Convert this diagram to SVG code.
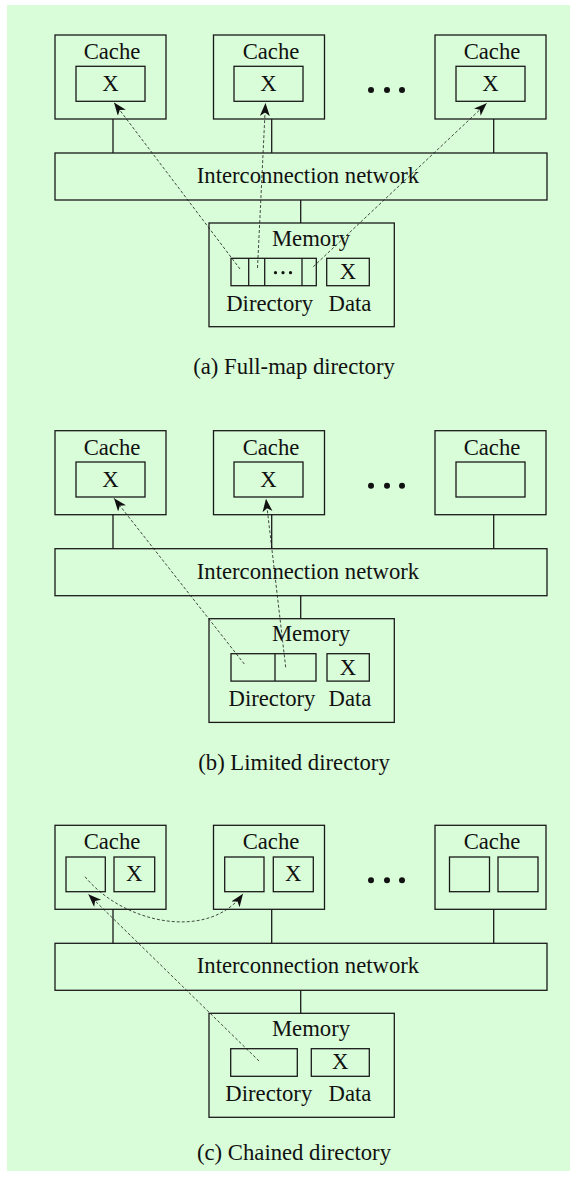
<svg xmlns="http://www.w3.org/2000/svg" width="576" height="1177" viewBox="0 0 576 1177">
<style>
.b{fill:none;stroke:#1a1a1a;stroke-width:1.3}
.t{font-family:"Liberation Serif","Times New Roman",serif;font-size:22.7px;fill:#111;text-anchor:middle}
.l{stroke:#1a1a1a;stroke-width:1.3;fill:none}
.d{stroke:#1a1a1a;stroke-width:0.8;stroke-dasharray:3 2;fill:none;marker-end:url(#ah)}
.dot{fill:#111}
</style>
<defs>
<marker id="ah" markerUnits="userSpaceOnUse" markerWidth="14" markerHeight="12" refX="13" refY="5" orient="auto">
<path d="M0,0 L13,5 L0,10 L3.5,5 Z" fill="#111"/>
</marker>
</defs>
<rect x="7" y="5" width="563" height="1166" fill="#d9fdd9"/>

<!-- Panel (a) -->
<g id="panel-a">
<g id="a-cache1"><rect class="b" x="55" y="35" width="111" height="84"/><text class="t" x="112" y="59">Cache</text><rect class="b" x="76" y="66.3" width="69" height="35"/><text class="t" x="110.5" y="91">X</text></g>
<g id="a-cache2"><rect class="b" x="213.5" y="35" width="111" height="84"/><text class="t" x="271" y="59">Cache</text><rect class="b" x="234" y="66.3" width="69" height="35"/><text class="t" x="268.5" y="91">X</text></g>
<g id="a-cache3"><rect class="b" x="435" y="35" width="111" height="84"/><text class="t" x="492" y="59">Cache</text><rect class="b" x="456" y="66.3" width="69" height="35"/><text class="t" x="490.5" y="91">X</text></g>
<g id="a-ellipsis"><circle class="dot" cx="371" cy="90" r="3"/><circle class="dot" cx="387" cy="90" r="3"/><circle class="dot" cx="402" cy="90" r="3"/></g>
<g id="a-network"><rect class="b" x="55" y="153" width="492" height="47"/><text class="t" x="308" y="183">Interconnection network</text></g>
<g id="a-memory"><rect class="b" x="209" y="223" width="185.3" height="103.7"/><text class="t" x="311" y="246">Memory</text>
<rect class="b" x="231" y="258.3" width="85.3" height="27.4"/><line class="l" x1="248.7" y1="258.3" x2="248.7" y2="285.7"/><line class="l" x1="264.7" y1="258.3" x2="264.7" y2="285.7"/><line class="l" x1="302" y1="258.3" x2="302" y2="285.7"/>
<circle class="dot" cx="275.5" cy="272.7" r="1.6"/><circle class="dot" cx="283" cy="272.7" r="1.6"/><circle class="dot" cx="290.5" cy="272.7" r="1.6"/>
<rect class="b" x="326.7" y="258.3" width="42.6" height="27.4"/><text class="t" x="348" y="279">X</text>
<text class="t" x="269.7" y="310.7">Directory</text><text class="t" x="350" y="310.7">Data</text></g>
<g id="a-connectors">
<line class="l" x1="113" y1="119" x2="113" y2="153"/><line class="l" x1="271.7" y1="119" x2="271.7" y2="153"/><line class="l" x1="493.7" y1="119" x2="493.7" y2="153"/><line class="l" x1="300.7" y1="200" x2="300.7" y2="223"/>
<line class="d" x1="240" y1="269" x2="114" y2="102.5"/>
<line class="d" x1="257.5" y1="268" x2="265.5" y2="103"/>
<line class="d" x1="313.3" y1="266.7" x2="486.7" y2="103.3"/>
</g>
<text id="a-caption" class="t" x="294" y="374.3">(a) Full-map directory</text>
</g>

<!-- Panel (b) -->
<g id="panel-b" transform="translate(0,395.7)">
<g id="b-cache1"><rect class="b" x="55" y="35" width="111" height="84"/><text class="t" x="112" y="59">Cache</text><rect class="b" x="76" y="66.3" width="69" height="35"/><text class="t" x="110.5" y="91">X</text></g>
<g id="b-cache2"><rect class="b" x="213.5" y="35" width="111" height="84"/><text class="t" x="271" y="59">Cache</text><rect class="b" x="234" y="66.3" width="69" height="35"/><text class="t" x="268.5" y="91">X</text></g>
<g id="b-cache3"><rect class="b" x="435" y="35" width="111" height="84"/><text class="t" x="492" y="59">Cache</text><rect class="b" x="456" y="66.3" width="69" height="35"/></g>
<g id="b-ellipsis"><circle class="dot" cx="371" cy="90" r="3"/><circle class="dot" cx="387" cy="90" r="3"/><circle class="dot" cx="402" cy="90" r="3"/></g>
<g id="b-network"><rect class="b" x="55" y="153" width="492" height="47"/><text class="t" x="308" y="183">Interconnection network</text></g>
<g id="b-memory"><rect class="b" x="209" y="223" width="185.3" height="103.7"/><text class="t" x="311" y="245">Memory</text>
<rect class="b" x="231" y="258" width="85" height="27.4"/><line class="l" x1="275" y1="258" x2="275" y2="285.4"/>
<rect class="b" x="327" y="258" width="42.3" height="27.4"/><text class="t" x="348" y="279">X</text>
<text class="t" x="272" y="310.5">Directory</text><text class="t" x="350" y="310.5">Data</text></g>
<g id="b-connectors">
<line class="l" x1="113" y1="119" x2="113" y2="153"/><line class="l" x1="271.7" y1="119" x2="271.7" y2="153"/><line class="l" x1="493.7" y1="119" x2="493.7" y2="153"/><line class="l" x1="300.7" y1="200" x2="300.7" y2="223"/>
<line class="d" x1="244.3" y1="268.3" x2="114" y2="102.5"/>
<line class="d" x1="285.7" y1="271.6" x2="266" y2="103"/>
</g>
<text id="b-caption" class="t" x="294" y="374.3">(b) Limited directory</text>
</g>

<!-- Panel (c) -->
<g id="panel-c" transform="translate(0,790.3)">
<g id="c-cache1"><rect class="b" x="55" y="35" width="111" height="84"/><text class="t" x="112" y="59">Cache</text><rect class="b" x="66" y="66.7" width="39.3" height="34.7"/><rect class="b" x="114" y="66.7" width="40.7" height="34.7"/><text class="t" x="134.3" y="90.7">X</text></g>
<g id="c-cache2"><rect class="b" x="213.5" y="35" width="111" height="84"/><text class="t" x="271" y="59">Cache</text><rect class="b" x="224.7" y="66.7" width="39.3" height="34.7"/><rect class="b" x="273.3" y="66.7" width="40" height="34.7"/><text class="t" x="293.3" y="90.7">X</text></g>
<g id="c-cache3"><rect class="b" x="435" y="35" width="111" height="84"/><text class="t" x="492" y="59">Cache</text><rect class="b" x="449.5" y="66.7" width="40" height="34.7"/><rect class="b" x="498" y="66.7" width="40" height="34.7"/></g>
<g id="c-ellipsis"><circle class="dot" cx="371" cy="90" r="3"/><circle class="dot" cx="387" cy="90" r="3"/><circle class="dot" cx="402" cy="90" r="3"/></g>
<g id="c-network"><rect class="b" x="55" y="153" width="492" height="47"/><text class="t" x="308" y="183">Interconnection network</text></g>
<g id="c-memory"><rect class="b" x="209" y="223" width="185.3" height="104"/><text class="t" x="311" y="245.7">Memory</text>
<rect class="b" x="230.7" y="258.4" width="66.6" height="27.6"/>
<rect class="b" x="311.3" y="258.4" width="58" height="27.6"/><text class="t" x="340.3" y="279">X</text>
<text class="t" x="268.8" y="310.4">Directory</text><text class="t" x="350" y="310.4">Data</text></g>
<g id="c-connectors">
<line class="l" x1="113" y1="119" x2="113" y2="153"/><line class="l" x1="271.7" y1="119" x2="271.7" y2="153"/><line class="l" x1="493.7" y1="119" x2="493.7" y2="153"/><line class="l" x1="300.7" y1="200" x2="300.7" y2="223"/>
<line class="d" x1="259" y1="270.7" x2="88.3" y2="104"/>
<path class="d" d="M85,86.4 C125,135 210,150 243,103.4"/>
</g>
<text id="c-caption" class="t" x="294" y="369.7">(c) Chained directory</text>
</g>
</svg>
